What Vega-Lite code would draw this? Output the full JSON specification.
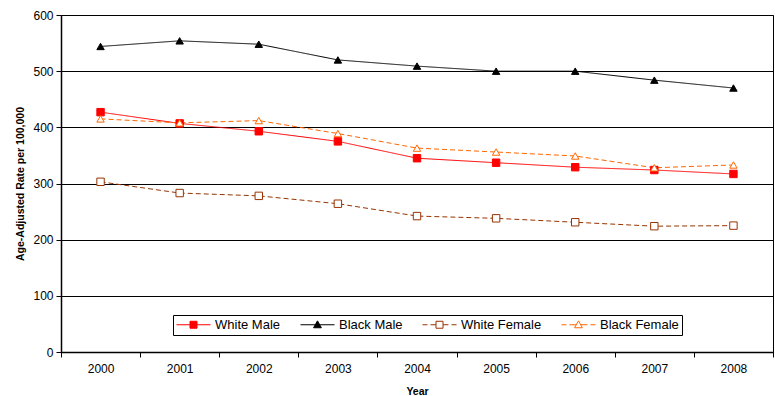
{
  "$schema": "https://vega.github.io/schema/vega-lite/v6.json",
  "autosize": "none",
  "width": 712,
  "height": 337,
  "padding": {"left": 61, "top": 15, "right": 2, "bottom": 44},
  "config": {
    "font": "Liberation Sans",
    "view": {"stroke": "#000", "strokeWidth": 1},
    "axis": {"labelFont": "Liberation Sans", "titleFont": "Liberation Sans", "labelColor": "#000", "titleColor": "#000", "domainColor": "#000", "tickColor": "#000", "labelFontSize": 12, "titleFontSize": 10.5, "titleFontWeight": "bold"}
  },
  "data": {"values": [
    {"year": "2000", "series": "White Male", "rate": 427},
    {"year": "2001", "series": "White Male", "rate": 407},
    {"year": "2002", "series": "White Male", "rate": 393},
    {"year": "2003", "series": "White Male", "rate": 375},
    {"year": "2004", "series": "White Male", "rate": 345},
    {"year": "2005", "series": "White Male", "rate": 337},
    {"year": "2006", "series": "White Male", "rate": 329},
    {"year": "2007", "series": "White Male", "rate": 324},
    {"year": "2008", "series": "White Male", "rate": 317},
    {"year": "2000", "series": "Black Male", "rate": 544},
    {"year": "2001", "series": "Black Male", "rate": 554},
    {"year": "2002", "series": "Black Male", "rate": 548},
    {"year": "2003", "series": "Black Male", "rate": 520},
    {"year": "2004", "series": "Black Male", "rate": 509},
    {"year": "2005", "series": "Black Male", "rate": 500},
    {"year": "2006", "series": "Black Male", "rate": 500},
    {"year": "2007", "series": "Black Male", "rate": 484},
    {"year": "2008", "series": "Black Male", "rate": 470},
    {"year": "2000", "series": "White Female", "rate": 303},
    {"year": "2001", "series": "White Female", "rate": 283},
    {"year": "2002", "series": "White Female", "rate": 278},
    {"year": "2003", "series": "White Female", "rate": 264},
    {"year": "2004", "series": "White Female", "rate": 242},
    {"year": "2005", "series": "White Female", "rate": 238},
    {"year": "2006", "series": "White Female", "rate": 231},
    {"year": "2007", "series": "White Female", "rate": 224},
    {"year": "2008", "series": "White Female", "rate": 225},
    {"year": "2000", "series": "Black Female", "rate": 415},
    {"year": "2001", "series": "Black Female", "rate": 408},
    {"year": "2002", "series": "Black Female", "rate": 412},
    {"year": "2003", "series": "Black Female", "rate": 389},
    {"year": "2004", "series": "Black Female", "rate": 363},
    {"year": "2005", "series": "Black Female", "rate": 356},
    {"year": "2006", "series": "Black Female", "rate": 349},
    {"year": "2007", "series": "Black Female", "rate": 328},
    {"year": "2008", "series": "Black Female", "rate": 333}
  ]},
  "encoding": {
    "x": {"field": "year", "type": "ordinal", "title": "Year",
      "scale": {"type": "band", "paddingInner": 0, "paddingOuter": 0},
      "axis": {"labelAngle": 0, "tickBand": "extent", "tickSize": 5, "labelPadding": 6, "titlePadding": 12, "domainWidth": 1.5}},
    "y": {"field": "rate", "type": "quantitative", "title": "Age-Adjusted Rate per 100,000",
      "scale": {"domain": [0, 600], "nice": false},
      "axis": {"values": [0, 100, 200, 300, 400, 500, 600], "tickSize": 5, "labelPadding": 3, "titlePadding": 7, "gridColor": "#000", "gridWidth": 1, "domainWidth": 1.5}}
  },
  "layer": [
    {
      "mark": {"type": "line", "strokeWidth": 1},
      "encoding": {
        "detail": {"field": "series"},
        "color": {"field": "series", "type": "nominal", "legend": null,
          "scale": {"domain": ["White Male", "Black Male", "White Female", "Black Female"], "range": ["#FF0000", "#000000", "#993300", "#FF6600"]}},
        "strokeDash": {"field": "series", "type": "nominal", "legend": null,
          "scale": {"domain": ["White Male", "Black Male", "White Female", "Black Female"], "range": [[1, 0], [1, 0], [5, 3], [5, 3]]}}
      }
    },
    {
      "mark": {"type": "point", "filled": true, "size": 55, "strokeWidth": 1, "opacity": 1},
      "encoding": {
        "shape": {"field": "series", "type": "nominal", "legend": null,
          "scale": {"domain": ["White Male", "Black Male", "White Female", "Black Female"], "range": ["square", "triangle-up", "square", "triangle-up"]}},
        "fill": {"field": "series", "type": "nominal", "legend": null,
          "scale": {"domain": ["White Male", "Black Male", "White Female", "Black Female"], "range": ["#FF0000", "#000000", "#FFFFFF", "#FFFFFF"]}},
        "stroke": {"field": "series", "type": "nominal", "legend": null,
          "scale": {"domain": ["White Male", "Black Male", "White Female", "Black Female"], "range": ["#FF0000", "#000000", "#993300", "#FF6600"]}}
      }
    },
    {
      "mark": {"type": "point", "filled": true, "strokeWidth": 1, "opacity": 0},
      "encoding": {
        "shape": {"field": "series", "type": "nominal",
          "scale": {"domain": ["White Male", "Black Male", "White Female", "Black Female"], "range": [
            "M-1,0H1.25M2.42,0H4.67M1.25,-0.58H2.42V0.58H1.25Z",
            "M-1,0H1.46M2.2,0H4.67M1.83,-0.65L2.48,0.5H1.18Z",
            "M-1,0H-0.17M0.33,0H1.25M2.42,0H3.33M3.83,0H4.67M1.25,-0.58H2.42V0.58H1.25Z",
            "M-1,0H-0.17M0.33,0H1.46M2.2,0H3.33M3.83,0H4.67M1.83,-0.65L2.48,0.5H1.18Z"
          ]},
          "legend": {"title": null, "orient": "none", "legendX": 112, "legendY": 300, "direction": "horizontal", "columns": 4, "strokeColor": "#000", "padding": 3, "labelFontSize": 13, "labelFont": "Liberation Sans", "labelColor": "#000", "symbolSize": 144, "symbolOpacity": 1, "labelOffset": 26, "columnPadding": 17, "symbolStrokeWidth": 1}},
        "fill": {"field": "series", "type": "nominal",
          "scale": {"domain": ["White Male", "Black Male", "White Female", "Black Female"], "range": ["#FF0000", "#000000", "#FFFFFF", "#FFFFFF"]}},
        "stroke": {"field": "series", "type": "nominal",
          "scale": {"domain": ["White Male", "Black Male", "White Female", "Black Female"], "range": ["#FF0000", "#000000", "#993300", "#FF6600"]}}
      }
    }
  ],
  "resolve": {"scale": {"color": "independent", "strokeDash": "independent", "shape": "independent", "fill": "independent", "stroke": "independent"}}
}
